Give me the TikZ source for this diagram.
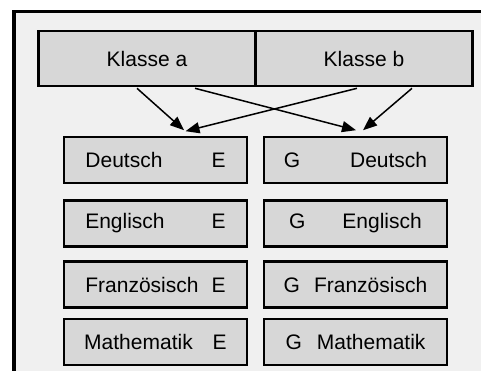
\documentclass[tikz,border=0pt]{standalone}
\usepackage{fontspec}
\setmainfont{Liberation Sans}
\usetikzlibrary{arrows.meta,calc}
\definecolor{panel}{HTML}{F0F0F0}
\definecolor{boxfill}{HTML}{D7D7D7}
\tikzset{
  klasse/.style={draw=black, line width=2.6pt, fill=boxfill, minimum width=217pt,
    minimum height=55pt, inner sep=0pt, font=\fontsize{21}{24}\selectfont},
  fach/.style={draw=black, line width=2.6pt, fill=boxfill, minimum width=183pt,
    minimum height=46pt, inner sep=0pt, font=\fontsize{21}{24}\selectfont},
  zuordnung/.style={line width=1.5pt, -{Triangle[length=14pt,width=11pt]}}
}
\begin{document}
\begin{tikzpicture}[x=1pt,y=-1pt]
  \useasboundingbox (0,0) rectangle (481,371);
  % panel with its heavy left and top edges
  \fill[panel] (12,10) rectangle (495,380);
  \draw[line width=4pt] (14,380) -- (14,11.5);
  \draw[line width=3pt] (12,11.5) -- (495,11.5);

  % classes
  \node[klasse] (ka) at (147,58.5) {Klasse a};
  \node[klasse] (kb) at (364,58.5) {Klasse b};

  % subject rows
  \node[fach] (e1) at (155.5,160)   {Deutsch\hspace{49pt}E};
  \node[fach] (g1) at (355.5,160)   {G\hspace{50pt}Deutsch};
  \node[fach] (e2) at (155.5,223.5) {Englisch\hspace{47pt}E};
  \node[fach] (g2) at (355.5,223.5) {G\hspace{37pt}Englisch\hspace{10pt}};
  \node[fach] (e3) at (155.5,284.5) {Französisch\hspace{13pt}E};
  \node[fach] (g3) at (355.5,284.5) {G\hspace{14pt}Französisch};
  \node[fach] (e4) at (155.5,342)   {Mathematik\hspace{20pt}E};
  \node[fach] (g4) at (355.5,342)   {G\hspace{15pt}Mathematik};

  % crossing assignments
  \draw[zuordnung] ([xshift=-10pt,yshift=-1pt]ka.south) -- ([xshift=28.5pt,yshift=5.5pt]e1.north);
  \draw[zuordnung] ([xshift=48pt,yshift=-1pt]ka.south) -- ([xshift=0.5pt,yshift=5.5pt]g1.north);
  \draw[zuordnung] ([xshift=-7pt,yshift=-1pt]kb.south) -- ([xshift=30pt,yshift=4.5pt]e1.north);
  \draw[zuordnung] ([xshift=48pt,yshift=-1pt]kb.south) -- ([xshift=7.5pt,yshift=5.5pt]g1.north);
\end{tikzpicture}
\end{document}
